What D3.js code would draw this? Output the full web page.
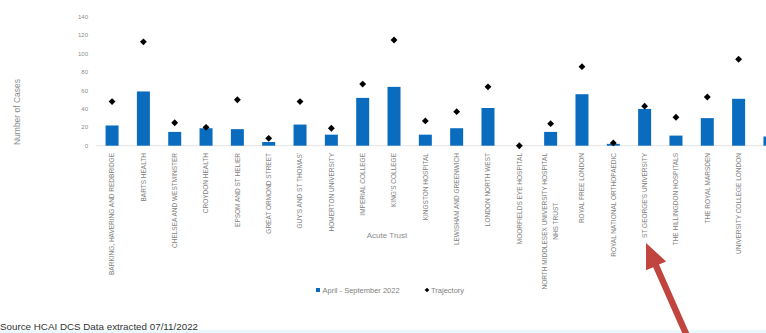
<!DOCTYPE html>
<html>
<head>
<meta charset="utf-8">
<script src="https://cdn.jsdelivr.net/npm/d3@7/dist/d3.min.js"></script>
<style>
  html, body { margin: 0; padding: 0; background: #fff; }
  svg { display: block; }
  text { font-family: "Liberation Sans", Arial, sans-serif; }
</style>
</head>
<body>
<div id="chart"></div>
<script>
// ---- data ----
const trusts = [
  ["BARKING, HAVERING AND REDBRIDGE"],
  ["BARTS HEALTH"],
  ["CHELSEA AND WESTMINSTER"],
  ["CROYDON HEALTH"],
  ["EPSOM AND ST HELIER"],
  ["GREAT ORMOND STREET"],
  ["GUY'S AND ST THOMAS'"],
  ["HOMERTON UNIVERSITY"],
  ["IMPERIAL COLLEGE"],
  ["KING'S COLLEGE"],
  ["KINGSTON HOSPITAL"],
  ["LEWISHAM AND GREENWICH"],
  ["LONDON NORTH WEST"],
  ["MOORFIELDS EYE HOSPITAL"],
  ["NORTH MIDDLESEX UNIVERSITY HOSPITAL", "NHS TRUST"],
  ["ROYAL FREE LONDON"],
  ["ROYAL NATIONAL ORTHOPAEDIC"],
  ["ST GEORGE'S UNIVERSITY"],
  ["THE HILLINGDON HOSPITALS"],
  ["THE ROYAL MARSDEN"],
  ["UNIVERSITY COLLEGE LONDON"],
  ["WHITTINGTON HEALTH"]
];
const cases2022 = [22, 59, 15, 19, 18, 4, 23, 12, 52, 64, 12, 19, 41, 0, 15, 56, 2, 40, 11, 30, 51, 10];
const trajectory = [48, 113, 25, 20, 50, 8, 48, 19, 67, 115, 27, 37, 64, 0, 24, 86, 3, 43, 31, 53, 94, 60];
const yTicks = [0, 20, 40, 60, 80, 100, 120, 140];
const seriesNames = ["April - September 2022", "Trajectory"];
const yTitle = "Number of Cases";
const xTitle = "Acute Trust";
const sourceNote = "Source HCAI DCS Data extracted 07/11/2022";

// ---- layout ----
const W = 766, H = 333;
const barColor = "#0a6cbf";
const labelGray = "#7f7f7f";

const svg = d3.select("#chart").append("svg").attr("width", W).attr("height", H);

const keys = trusts.map((d, i) => i);
const x = d3.scaleBand().domain(keys).range([96.4, 785.6]).paddingInner(0.585).paddingOuter(0.2925);
const y = d3.scaleLinear().domain([0, 140]).range([145.7, 17]);

// y axis tick labels
svg.append("g").selectAll("text").data(yTicks).join("text")
  .attr("x", 88).attr("y", d => y(d)).attr("dy", "0.35em")
  .attr("text-anchor", "end").attr("font-size", 6).attr("fill", "#8c8c8c")
  .text(d => d);

// baseline
svg.append("line").attr("x1", 96).attr("x2", W).attr("y1", y(0)).attr("y2", y(0))
  .attr("stroke", "#dcdcdc").attr("stroke-width", 0.8);

// bars
svg.append("g").selectAll("rect").data(cases2022).join("rect")
  .attr("x", (d, i) => x(i)).attr("width", x.bandwidth())
  .attr("y", d => y(d)).attr("height", d => y(0) - y(d))
  .attr("fill", barColor);

// trajectory markers
const diamond = d3.symbol().type(d3.symbolDiamond2).size(30);
svg.append("g").selectAll("path").data(trajectory).join("path")
  .attr("d", diamond)
  .attr("transform", (d, i) => `translate(${x(i) + x.bandwidth() / 2},${y(d)})`)
  .attr("fill", "#000");

// category labels (rotated); labels whose tick lies beyond the picture edge are not drawn
const lblTop = 153;
const lblG = svg.append("g").attr("font-size", 6.5).attr("fill", labelGray);
trusts.forEach((lines, i) => {
  const cx = x(i) + x.bandwidth() / 2;
  if (cx + 6 > W) return;
  if (lines.length === 1) {
    lblG.append("text")
      .attr("transform", `translate(${cx},${lblTop}) rotate(-90)`)
      .attr("text-anchor", "end").attr("dy", "0.35em")
      .text(lines[0]);
  } else {
    const t1 = lblG.append("text")
      .attr("transform", `translate(${cx - 5.5},${lblTop}) rotate(-90)`)
      .attr("text-anchor", "end").attr("dy", "0.35em")
      .text(lines[0]);
    const len = t1.node().getComputedTextLength();
    lblG.append("text")
      .attr("transform", `translate(${cx + 5.5},${lblTop + len / 2}) rotate(-90)`)
      .attr("text-anchor", "middle").attr("dy", "0.35em")
      .text(lines[1]);
  }
});

// axis titles
svg.append("text").attr("transform", "translate(17,112) rotate(-90)")
  .attr("text-anchor", "middle").attr("dy", "0.35em")
  .attr("font-size", 8.5).attr("fill", "#8c8c8c").text(yTitle);
svg.append("text").attr("x", 387).attr("y", 235).attr("dy", "0.35em")
  .attr("text-anchor", "middle").attr("font-size", 8).attr("fill", "#8c8c8c").text(xTitle);

// legend
const lg = svg.append("g").attr("font-size", 7.5).attr("fill", "#7f7f7f");
lg.append("rect").attr("x", 316).attr("y", 288).attr("width", 4).attr("height", 4).attr("fill", barColor);
lg.append("text").attr("x", 322.5).attr("y", 290).attr("dy", "0.35em").text(seriesNames[0]);
lg.append("path").attr("d", d3.symbol().type(d3.symbolDiamond2).size(14))
  .attr("transform", "translate(427,290)").attr("fill", "#000");
lg.append("text").attr("x", 431).attr("y", 290).attr("dy", "0.35em").text(seriesNames[1]);

// bottom strip + source note
svg.append("rect").attr("x", 0).attr("y", 330).attr("width", W).attr("height", 3).attr("fill", "#e8f8fc");
svg.append("text").attr("x", 0).attr("y", 329.5).attr("font-size", 9.8).attr("fill", "#333")
  .text(sourceNote);

// red annotation arrow
(function () {
  const tip = [646, 243], tail = [691, 345];
  const dx = tip[0] - tail[0], dy = tip[1] - tail[1];
  const L = Math.hypot(dx, dy);
  const ux = dx / L, uy = dy / L, nx = -uy, ny = ux;
  const hl = 25, hw = 11, sw = 3.2;
  const bx = tip[0] - hl * ux, by = tip[1] - hl * uy;
  const pts = [
    [tail[0] + sw * nx, tail[1] + sw * ny],
    [bx + sw * nx, by + sw * ny],
    [bx + hw * nx, by + hw * ny],
    tip,
    [bx - hw * nx, by - hw * ny],
    [bx - sw * nx, by - sw * ny],
    [tail[0] - sw * nx, tail[1] - sw * ny]
  ];
  svg.append("path").attr("d", d3.line()(pts) + "Z").attr("fill", "#c0453e");
})();
</script>
</body>
</html>
